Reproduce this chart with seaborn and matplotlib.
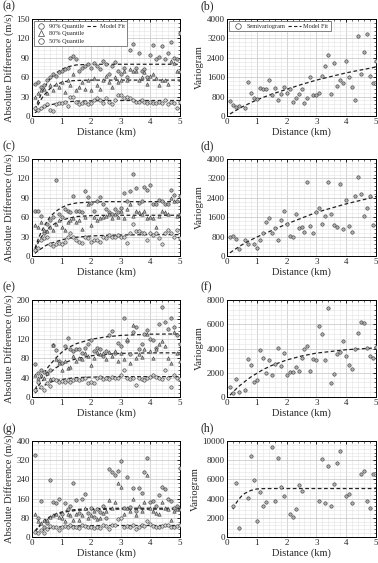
import numpy as np
import pandas as pd
import matplotlib
matplotlib.use("Agg")
import matplotlib.pyplot as plt
from matplotlib.ticker import MultipleLocator, AutoMinorLocator
from matplotlib.lines import Line2D
import seaborn as sns

# lag bins (km)
DIST = [0.1, 0.2, 0.3, 0.4, 0.5, 0.6, 0.7, 0.8, 0.9, 1.0,
        1.1, 1.2, 1.3, 1.4, 1.5, 1.6, 1.7, 1.8, 1.9, 2.0,
        2.1, 2.2, 2.3, 2.4, 2.5, 2.6, 2.7, 2.8, 2.9, 3.0,
        3.1, 3.2, 3.3, 3.4, 3.5, 3.6, 3.7, 3.8, 3.9, 4.0,
        4.1, 4.2, 4.3, 4.4, 4.5, 4.6, 4.7, 4.8, 4.9, 5.0]
FIT_DIST = [0.1, 0.2, 0.3, 0.4, 0.5, 0.6, 0.8, 1.0, 1.2, 1.5, 2.0, 2.5, 3.0, 4.0, 5.0]

# ---- (a) quantiles ----
a_q90 = [50, 52, 45, 48, 55, 60, 65, 62, 68, 70, 72, 75, 90, 93, 88, 70, 75, 78, 80, 75,
         82, 78, 72, 85, 80, 65, 78, 83, 70, 65, 75, 60, 102, 112, 75, 97, 70, 72, 60, 95,
         110, 88, 92, 108, 88, 98, 115, 90, 88, 128]
a_q80 = [30, 35, 40, 42, 35, 48, 40, 50, 45, 52, 37, 55, 48, 65, 40, 45, 52, 42, 55, 40,
         58, 48, 42, 55, 62, 52, 45, 60, 53, 55, 70, 55, 72, 70, 70, 55, 60, 68, 50, 62,
         65, 58, 48, 55, 55, 50, 85, 82, 70, 70]
a_q50 = [12, 10, 12, 15, 18, 10, 8, 18, 20, 20, 22, 15, 30, 30, 22, 18, 20, 22, 18, 20,
         25, 28, 25, 20, 28, 22, 18, 25, 32, 32, 28, 30, 28, 25, 22, 22, 25, 22, 20, 22,
         20, 20, 22, 20, 25, 18, 22, 20, 12, 22]
a_fit90 = [10, 22, 33, 42, 50, 57, 66, 72, 76, 79, 80, 80, 80, 80, 80]
a_fit80 = [8, 17, 25, 32, 37, 42, 48, 52, 54, 55, 55.5, 55.5, 55.5, 55.5, 55.5]
a_fit50 = [5, 8, 11, 13, 15, 17, 19, 21, 22, 23, 23.5, 24, 24, 24, 24]

# ---- (c) quantiles ----
c_q90 = [70, 70, 62, 35, 50, 55, 60, 117, 65, 60, 72, 70, 68, 93, 70, 70, 68, 100, 92, 82,
         70, 85, 92, 80, 72, 68, 65, 72, 68, 75, 98, 85, 100, 127, 105, 82, 85, 106, 102, 110,
         80, 80, 86, 85, 80, 80, 102, 95, 85, 93]
c_q80 = [48, 45, 52, 40, 38, 45, 40, 50, 55, 45, 40, 52, 55, 58, 52, 55, 42, 60, 80, 48,
         60, 55, 58, 60, 62, 65, 58, 65, 60, 70, 58, 72, 80, 62, 70, 68, 65, 70, 58, 60,
         58, 45, 62, 70, 68, 65, 90, 85, 62, 65]
c_q50 = [10, 12, 25, 28, 30, 18, 15, 18, 20, 18, 22, 30, 35, 30, 25, 22, 20, 30, 28, 22,
         25, 25, 22, 30, 28, 32, 30, 30, 32, 30, 30, 20, 35, 50, 38, 38, 35, 35, 25, 35,
         32, 35, 28, 18, 35, 40, 35, 30, 40, 28]
c_fit90 = [12, 25, 36, 45, 53, 60, 69, 75, 79, 82, 83.5, 84, 84, 84, 84]
c_fit80 = [10, 20, 28, 35, 40, 45, 51, 55, 58, 61, 62.5, 63, 63, 63, 63]
c_fit50 = [4, 8, 11, 14, 17, 19, 22, 25, 27, 29, 31, 32, 32.5, 33, 33]

# ---- (e) quantiles ----
e_q90 = [68, 50, 55, 52, 50, 55, 108, 97, 75, 70, 105, 122, 100, 95, 100, 100, 90, 102, 110, 118,
         95, 102, 100, 85, 95, 128, 136, 90, 112, 105, 162, 115, 88, 135, 145, 100, 110, 130, 138, 120,
         118, 102, 150, 186, 155, 140, 162, 145, 128, 110]
e_q80 = [45, 40, 45, 40, 50, 38, 108, 78, 70, 55, 75, 60, 62, 85, 75, 80, 78, 90, 85, 65,
         80, 92, 88, 90, 78, 92, 85, 95, 75, 90, 78, 120, 70, 148, 80, 88, 82, 100, 130, 95,
         80, 100, 110, 115, 105, 80, 70, 135, 90, 75]
e_q50 = [15, 30, 20, 15, 28, 22, 38, 35, 30, 32, 30, 35, 30, 36, 38, 35, 38, 40, 28, 30,
         28, 40, 42, 38, 40, 38, 42, 40, 40, 45, 55, 40, 38, 40, 25, 40, 38, 35, 40, 42,
         45, 42, 40, 38, 55, 40, 20, 45, 40, 38]
e_fit90 = [15, 27, 38, 48, 58, 66, 80, 92, 101, 110, 119, 124, 127, 129.5, 130]
e_fit80 = [12, 21, 30, 37, 44, 50, 60, 67, 73, 79, 85, 88, 90, 91, 91]
e_fit50 = [8, 14, 19, 23, 27, 30, 34, 36, 38, 40, 41, 41.5, 42, 42, 42]

# ---- (g) quantiles ----
g_q90 = [340, 80, 148, 40, 60, 238, 145, 140, 160, 95, 140, 115, 130, 225, 155, 100, 160, 180, 100, 120,
         85, 115, 105, 130, 80, 285, 270, 260, 275, 318, 120, 250, 125, 205, 110, 205, 185, 270, 328, 145,
         150, 130, 175, 210, 200, 160, 150, 120, 130, 288]
g_q80 = [95, 65, 60, 70, 70, 85, 90, 95, 82, 80, 65, 95, 90, 72, 95, 70, 90, 120, 80, 90,
         110, 75, 80, 100, 110, 155, 120, 145, 225, 210, 95, 120, 110, 160, 90, 130, 110, 145, 260, 120,
         110, 100, 95, 145, 120, 115, 70, 110, 115, 115]
g_q50 = [20, 18, 30, 15, 35, 45, 40, 42, 28, 40, 45, 42, 48, 40, 42, 38, 50, 45, 40, 40,
         38, 42, 38, 48, 45, 35, 50, 48, 75, 80, 40, 45, 42, 50, 35, 42, 48, 45, 65, 55,
         45, 40, 42, 45, 50, 48, 42, 40, 45, 48]
g_fit90 = [25, 40, 55, 66, 76, 84, 96, 104, 110, 115, 118, 119.5, 120, 120, 120]
g_fit80 = [22, 37, 51, 62, 72, 80, 92, 100, 106, 111, 114, 115.5, 116, 116, 116]
g_fit50 = [15, 20, 25, 29, 33, 36, 40, 43, 45, 46.5, 47.5, 48, 48, 48, 48]

# ---- variograms (None = no pair in bin) ----
b_gamma = [620, 450, 370, 400, None, 330, 1400, 950, 750, 720, 1150, 1130, 1100, 1500, 870, 1150, 650, 900, 1180, 950,
           1100, 570, 750, 900, 1100, 530, 750, 1600, 860, 880, 930, 1650, 2050, 2500, 920, 2200, 1250, 1500, 1350, 2250,
           1600, 1200, 650, 3300, 1750, 2650, 3400, 1650, 1350, 2250]
d_gamma = [800, 830, 720, 290, None, 650, 500, None, 500, 310, 680, 960, 1420, 1550, 930, 1140, 660, 1500, 1850, 1330,
           820, 790, 1720, 1160, 1200, 970, 3050, 1250, 950, 1830, 2000, 1320, 1650, 3050, 1750, 1280, 1200, 2950, 1130, 2300,
           1220, 1000, 2470, 3270, 2570, 1630, 1980, 2480, 1270, None]
f_gamma = [800, 350, 1500, 450, None, 550, 3100, 2650, 1250, 1400, 3900, 3250, 2000, 3050, 1850, 2750, 4050, 2550, 3650, 1800,
           2100, 2100, 2500, 2150, 3250, 3950, 4200, 2150, 3100, 3050, 5850, 5200, 3050, 7350, 1150, 1900, 3550, 3700, 4600, 3400,
           2600, 2350, 4000, 5250, 6150, 6100, 4050, 3400, 3200, 4100]
h_gamma = [None, 3200, 5650, 900, None, None, 4100, 8400, 5950, 1650, 4650, 3250, 3600, None, 9350, 3700, 8250, 5250, 4250, None,
           2350, 2050, 2950, 5450, 4750, None, None, None, None, None, 3700, 8150, 3550, 7350, 3200, 5550, 7750, 8950, None, 4250,
           4500, 3550, None, None, 6550, 6850, 3750, 3000, 6550, None]
b_fit = [80, 160, 230, 300, 370, 430, 550, 660, 760, 900, 1100, 1300, 1480, 1780, 2020]
d_fit = [130, 220, 300, 380, 460, 530, 660, 780, 890, 1050, 1320, 1560, 1800, 2150, 2450]
f_fit = [150, 400, 650, 880, 1080, 1280, 1650, 1950, 2250, 2600, 3050, 3380, 3620, 3900, 4050]
h_fit = [None, 2900, 3500, 3950, 4300, 4550, 4850, 5000, 5040, 5050, 5050, 5050, 5050, 5050, 5050]

sns.set_theme(style="whitegrid")
plt.rcParams["font.family"] = ["Liberation Serif", "DejaVu Serif"]

W, H = 378, 563
fig = plt.figure(figsize=(W / 100, H / 100), dpi=100)

COL_X = [(32, 148), (227, 149)]
ROW_Y = [(19, 116), (159, 256), (300, 397), (441, 537)]

FACE = "#ababab"
EDGE = "#3a3a3a"


def make_ax(col, row):
    x0, w = COL_X[col]
    top, bot = ROW_Y[row]
    return fig.add_axes([x0 / W, 1 - bot / H, w / W, (bot - top) / H])


def style_ax(ax, ymax, ystep, ylabel, letter, col):
    ax.set_xlim(0, 5)
    ax.set_ylim(0, ymax)
    ax.xaxis.set_major_locator(MultipleLocator(1))
    ax.yaxis.set_major_locator(MultipleLocator(ystep))
    ax.xaxis.set_minor_locator(AutoMinorLocator(5))
    ax.yaxis.set_minor_locator(AutoMinorLocator(5))
    ax.grid(which="major", color="#c4c4c4", lw=0.5)
    ax.grid(which="minor", color="#e4e4e4", lw=0.4)
    ax.set_axisbelow(True)
    for s in ax.spines.values():
        s.set_color("black")
        s.set_linewidth(0.7)
    ax.tick_params(which="both", direction="in", top=True, right=True,
                   labelsize=6.5, pad=1.5, color="black")
    ax.tick_params(which="major", length=2.5, width=0.6)
    ax.tick_params(which="minor", length=1.3, width=0.4)
    ax.set_xlabel("Distance (km)", fontsize=7.5, labelpad=1)
    ax.set_ylabel(ylabel, fontsize=7.5, labelpad=2)
    lx = -0.196 if col == 0 else -0.175
    ax.text(lx, 1.13, f"({letter})", transform=ax.transAxes, fontsize=8.5,
            va="center", ha="left")


def fit_line(ax, fit):
    df = pd.DataFrame({"d": FIT_DIST, "v": np.array(fit, dtype=float)}).dropna()
    sns.lineplot(data=df, x="d", y="v", ax=ax, color="#222222", lw=0.9,
                 linestyle=(0, (3, 2)), legend=False)


quant_panels = [
    ("a", a_q90, a_q80, a_q50, a_fit90, a_fit80, a_fit50, 150, 30),
    ("c", c_q90, c_q80, c_q50, c_fit90, c_fit80, c_fit50, 150, 30),
    ("e", e_q90, e_q80, e_q50, e_fit90, e_fit80, e_fit50, 200, 40),
    ("g", g_q90, g_q80, g_q50, g_fit90, g_fit80, g_fit50, 400, 80),
]
vario_panels = [
    ("b", b_gamma, b_fit, 4000, 800),
    ("d", d_gamma, d_fit, 4000, 800),
    ("f", f_gamma, f_fit, 8000, 2000),
    ("h", h_gamma, h_fit, 10000, 2000),
]

for row, (letter, q90, q80, q50, f90, f80, f50, ymax, ystep) in enumerate(quant_panels):
    ax = make_ax(0, row)
    sns.scatterplot(x=DIST, y=q90, ax=ax, marker="o", s=6, color=FACE,
                    edgecolor=EDGE, linewidth=0.4, zorder=3)
    sns.scatterplot(x=DIST, y=q80, ax=ax, marker="^", s=6, color=FACE,
                    edgecolor=EDGE, linewidth=0.4, zorder=3)
    sns.scatterplot(x=DIST, y=q50, ax=ax, marker="o", s=6, color="#cfcfcf",
                    edgecolor=EDGE, linewidth=0.4, zorder=3)
    for f in (f90, f80, f50):
        fit_line(ax, f)
    style_ax(ax, ymax, ystep, "Absolute Difference (m/s)", letter, 0)
    if letter == "a":
        mk = dict(color="none", markerfacecolor="white", markeredgecolor="#444444",
                  markersize=4, markeredgewidth=0.5)
        blank = Line2D([], [], color="none")
        handles = [Line2D([], [], marker="o", **mk),
                   Line2D([], [], marker="^", **mk),
                   Line2D([], [], marker="o", **mk),
                   Line2D([], [], color="#222222", lw=0.8, linestyle=(0, (3, 2))),
                   blank, blank]
        labels = ["90% Quantile", "80% Quantile", "50% Quantile", "Model Fit", "", ""]
        leg = ax.legend(handles, labels, loc="upper left", ncol=2, fontsize=4.5,
                        frameon=True, fancybox=False, framealpha=1,
                        borderaxespad=0.3, handlelength=1.6, handletextpad=0.4,
                        columnspacing=0.5, labelspacing=0.35, borderpad=0.4)
        leg.get_frame().set_edgecolor("#555555")
        leg.get_frame().set_linewidth(0.5)

for row, (letter, gamma, fit, ymax, ystep) in enumerate(vario_panels):
    ax = make_ax(1, row)
    sns.scatterplot(x=DIST, y=gamma, ax=ax, marker="o", s=6, color=FACE,
                    edgecolor=EDGE, linewidth=0.4, zorder=3)
    fit_line(ax, fit)
    style_ax(ax, ymax, ystep, "Variogram", letter, 1)
    if letter == "b":
        handles = [Line2D([], [], marker="o", color="none", markerfacecolor="white",
                          markeredgecolor="#444444", markersize=4, markeredgewidth=0.5),
                   Line2D([], [], color="#222222", lw=0.8, linestyle=(0, (3, 2)))]
        leg = ax.legend(handles, ["Semivariogram", "Model Fit"], loc="upper left",
                        ncol=2, fontsize=4.5, frameon=True, fancybox=False,
                        framealpha=1, borderaxespad=0.3, handlelength=2.0,
                        handletextpad=0.4, columnspacing=0.5, borderpad=0.4)
        leg.get_frame().set_edgecolor("#555555")
        leg.get_frame().set_linewidth(0.5)

fig.savefig("out.png", dpi=100)
